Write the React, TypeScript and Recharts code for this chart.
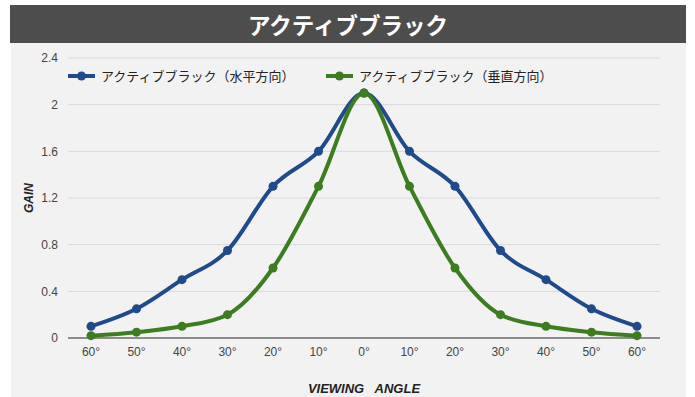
import React from 'react';
import { LineChart, Line, XAxis, YAxis, CartesianGrid, Legend } from 'recharts';

const title = 'アクティブブラック';
const angles = ['60°', '50°', '40°', '30°', '20°', '10°', '0°', '10°', '20°', '30°', '40°', '50°', '60°'];
const horizontalGain = [0.1, 0.25, 0.5, 0.75, 1.3, 1.6, 2.1, 1.6, 1.3, 0.75, 0.5, 0.25, 0.1];
const verticalGain = [0.02, 0.05, 0.1, 0.2, 0.6, 1.3, 2.1, 1.3, 0.6, 0.2, 0.1, 0.05, 0.02];
const yTicks = [0, 0.4, 0.8, 1.2, 1.6, 2, 2.4];
const seriesNames = ['アクティブブラック（水平方向）', 'アクティブブラック（垂直方向）'];
const seriesColors = ['#1f4a8c', '#3b7d1f'];
const xTitle = 'VIEWING   ANGLE';
const yTitle = 'GAIN';

const data = angles.map((a, i) => ({
  idx: i,
  angle: a,
  h: horizontalGain[i],
  v: verticalGain[i],
}));

const LegendContent = () => (
  <div style={{ display: 'flex', fontFamily: '"Noto Sans CJK JP", sans-serif', fontSize: 13, color: '#222' }}>
    {seriesNames.map((n, i) => (
      <div key={n} style={{ display: 'flex', alignItems: 'center', width: i === 0 ? 258 : 260 }}>
        <svg width={27} height={10} style={{ marginRight: 6 }}>
          <line x1={0} y1={5} x2={27} y2={5} stroke={seriesColors[i]} strokeWidth={4} />
          <circle cx={13.5} cy={5} r={4.5} fill={seriesColors[i]} />
        </svg>
        <span>{n}</span>
      </div>
    ))}
  </div>
);

const YTitle = (props: any) => {
  const vb = props.viewBox;
  const cx = vb.x + 19;
  const cy = vb.y + vb.height / 2;
  return (
    <text x={cx} y={cy} transform={`rotate(-90, ${cx}, ${cy})`} textAnchor="middle" dominantBaseline="central"
      fontFamily="Liberation Sans, Arial, sans-serif" fontSize={12} fontWeight="bold" fontStyle="italic" fill="#222">
      {yTitle}
    </text>
  );
};

const XTitle = (props: any) => {
  const vb = props.viewBox;
  const cx = vb.x + vb.width / 2;
  const cy = vb.y + 50;
  return (
    <text x={cx} y={cy} textAnchor="middle" dominantBaseline="central" style={{ whiteSpace: 'pre' }}
      fontFamily="Liberation Sans, Arial, sans-serif" fontSize={13} fontWeight="bold" fontStyle="italic" fill="#222">
      {xTitle}
    </text>
  );
};

export default function App() {
  return (
    <div style={{ position: 'absolute', left: 0, top: 0, width: 695, height: 397, background: '#fff', overflow: 'hidden' }}>
      <div style={{ position: 'absolute', left: 10, top: 5, width: 676, height: 38, background: '#4d4d4d', color: '#fff',
        fontFamily: '"Noto Sans CJK JP", sans-serif', fontWeight: 'bold', fontSize: 22.5, lineHeight: '38px', textAlign: 'center' }}>
        {title}
      </div>
      <div style={{ position: 'absolute', left: 11, top: 43, width: 675, height: 354, background: '#f2f2f2' }} />
      <div style={{ position: 'absolute', left: 0, top: 0 }}>
        <LineChart width={695} height={397} data={data} margin={{ top: 58, right: 35, bottom: 17, left: 10 }}>
          <CartesianGrid vertical={false} stroke="#d9d9d9" strokeWidth={1} />
          <XAxis dataKey="idx" type="category" tickFormatter={(v: number) => angles[v]} padding={{ left: 23, right: 23 }}
            axisLine={{ stroke: '#333', strokeWidth: 1 }} tickLine={false} tickSize={0} tickMargin={9} height={42}
            tick={{ fill: '#444', fontSize: 12, fontFamily: 'Liberation Sans, Arial, sans-serif' }} interval={0}
            label={<XTitle />} />
          <YAxis domain={[0, 2.4]} ticks={yTicks} axisLine={false} tickLine={false} tickSize={0} tickMargin={10} width={58}
            tick={{ fill: '#444', fontSize: 12, fontFamily: 'Liberation Sans, Arial, sans-serif' }}
            label={<YTitle />} />
          <Legend verticalAlign="middle" align="center" layout="horizontal" content={<LegendContent />}
            wrapperStyle={{ position: 'absolute', top: 66, left: 68, width: 560 }} />
          <Line type="monotone" dataKey="h" name={seriesNames[0]} stroke={seriesColors[0]} strokeWidth={4}
            dot={{ r: 4.5, fill: seriesColors[0], stroke: seriesColors[0], strokeWidth: 0 }} isAnimationActive={false} />
          <Line type="monotone" dataKey="v" name={seriesNames[1]} stroke={seriesColors[1]} strokeWidth={4}
            dot={{ r: 4.5, fill: seriesColors[1], stroke: seriesColors[1], strokeWidth: 0 }} isAnimationActive={false} />
        </LineChart>
      </div>
    </div>
  );
}
